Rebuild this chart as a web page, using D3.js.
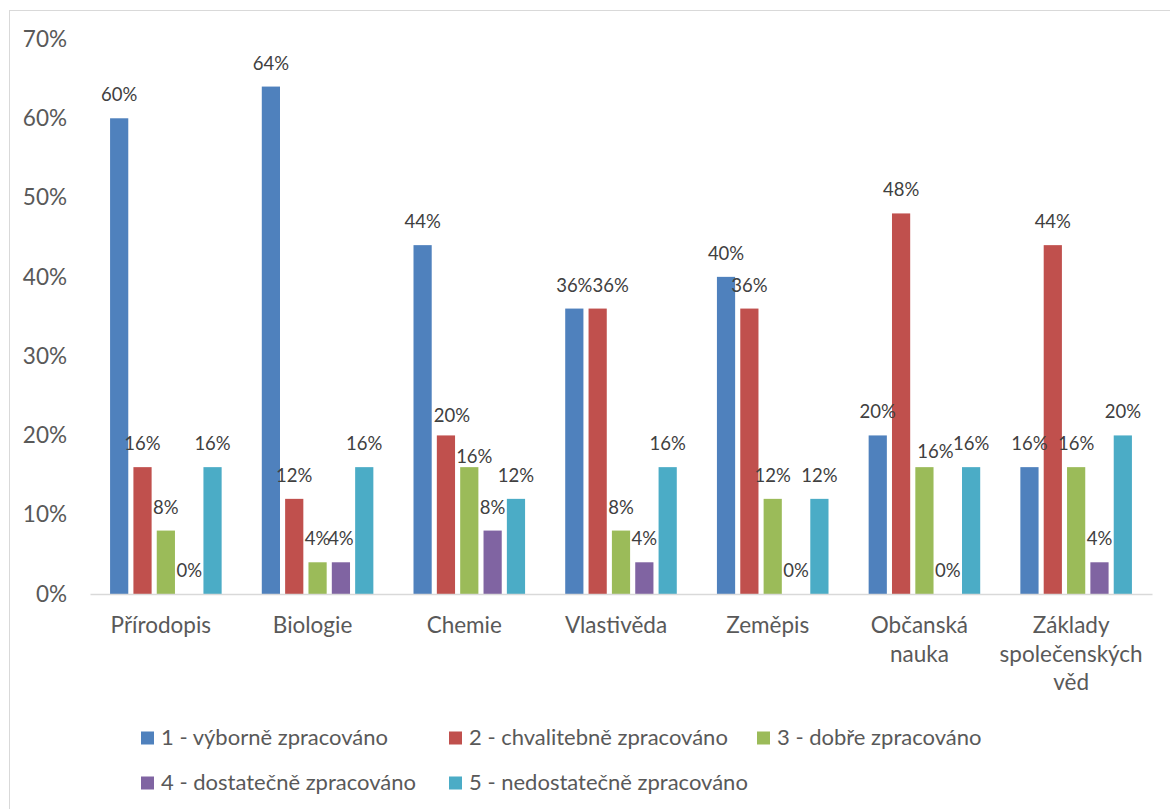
<!DOCTYPE html>
<html>
<head>
<meta charset="utf-8">
<script src="https://cdn.jsdelivr.net/npm/d3@7"></script>
<style>
  html, body { margin: 0; padding: 0; background: #fff; }
  svg { display: block; }
</style>
</head>
<body>
<svg id="chart" width="1170" height="809"></svg>
<script>
// Subjects (category axis), each label split into display lines
const categories = ["Přírodopis", "Biologie", "Chemie", "Vlastivěda", "Zeměpis", "Občanská nauka", "Základy společenských věd"];
const categoryLines = [["Přírodopis"], ["Biologie"], ["Chemie"], ["Vlastivěda"], ["Zeměpis"], ["Občanská", "nauka"], ["Základy", "společenských", "věd"]];

// Grade series
const seriesNames = ["1 - výborně zpracováno", "2 - chvalitebně zpracováno", "3 - dobře zpracováno", "4 - dostatečně zpracováno", "5 - nedostatečně zpracováno"];
const seriesColors = ["#4F81BD", "#C0504D", "#9BBB59", "#8064A2", "#4BACC6"];

// Share of each grade per subject (fraction)
const grade1 = [0.60, 0.64, 0.44, 0.36, 0.40, 0.20, 0.16];
const grade2 = [0.16, 0.12, 0.20, 0.36, 0.36, 0.48, 0.44];
const grade3 = [0.08, 0.04, 0.16, 0.08, 0.12, 0.16, 0.16];
const grade4 = [0.00, 0.04, 0.08, 0.04, 0.00, 0.00, 0.04];
const grade5 = [0.16, 0.16, 0.12, 0.16, 0.12, 0.16, 0.20];
const seriesValues = [grade1, grade2, grade3, grade4, grade5];

// Value axis ticks
const yTicks = [0, 0.1, 0.2, 0.3, 0.4, 0.5, 0.6, 0.7];

// Hand-nudged data labels that would otherwise collide: "series:category" -> [dx, dy]
const labelNudge = {
  "1:2": [6, 4],
  "2:2": [5, 12.5],
  "1:3": [13, 0],
  "2:5": [11, 8]
};

const FONT = "Lato, 'Open Sans', sans-serif";
const svg = d3.select("#chart");

// Outer chart frame
svg.append("rect")
  .attr("x", 9.5).attr("y", 10.5)
  .attr("width", 1200).attr("height", 900)
  .attr("fill", "none").attr("stroke", "#D9D9D9").attr("stroke-width", 1);

const x = d3.scaleBand().domain(categories).range([90, 1152]).paddingInner(0).paddingOuter(0);
const xs = d3.scaleBand().domain(d3.range(seriesNames.length)).range([0, x.bandwidth()])
  .paddingInner(0.22).paddingOuter(0.86);
const y = d3.scaleLinear().domain([0, 0.7]).range([594, 39]);
const pct = d3.format(".0%");

// Y axis labels (no axis line, no gridlines)
const yAxis = d3.axisLeft(y).tickValues(yTicks).tickFormat(pct).tickSize(0).tickPadding(0);
const yg = svg.append("g").attr("transform", "translate(67,0)").call(yAxis);
yg.select(".domain").remove();
yg.selectAll("text")
  .attr("font-family", FONT).attr("font-size", 22.5).attr("fill", "#595959");

// Bars
const groups = svg.append("g").selectAll("g")
  .data(seriesValues)
  .join("g")
  .attr("fill", (d, i) => seriesColors[i]);

groups.each(function (vals, si) {
  d3.select(this).selectAll("rect")
    .data(vals.map((v, ci) => ({ v, c: categories[ci] })))
    .join("rect")
    .attr("x", d => x(d.c) + xs(si))
    .attr("width", xs.bandwidth())
    .attr("y", d => y(d.v))
    .attr("height", d => y(0) - y(d.v));
});

// Category axis
const xAxis = d3.axisBottom(x).tickSize(0).tickFormat("");
const xg = svg.append("g").attr("transform", `translate(0,${y(0)})`).call(xAxis);
xg.select(".domain").attr("stroke", "#D9D9D9").attr("stroke-width", 1.3);

const catLabels = svg.append("g").selectAll("text")
  .data(categories)
  .join("text")
  .attr("font-family", FONT).attr("font-size", 22.5).attr("fill", "#595959")
  .attr("text-anchor", "middle");
catLabels.each(function (c, i) {
  const cx = x(c) + x.bandwidth() / 2 - 5;
  d3.select(this).selectAll("tspan")
    .data(categoryLines[i])
    .join("tspan")
    .attr("x", cx)
    .attr("y", (d, li) => 633 + li * 28.5)
    .text(d => d);
});

// Data labels
const labelG = svg.append("g");
seriesValues.forEach((vals, si) => {
  labelG.selectAll(null)
    .data(vals.map((v, ci) => ({ v, c: categories[ci], n: labelNudge[si + ":" + ci] || [0, 0] })))
    .join("text")
    .attr("font-family", FONT).attr("font-size", 18.5).attr("fill", "#404040")
    .attr("text-anchor", "middle")
    .attr("x", d => x(d.c) + xs(si) + xs.bandwidth() / 2 + d.n[0])
    .attr("y", d => y(d.v) - 17 + d.n[1])
    .text(d => pct(d.v));
});

// Legend
const legendPos = [[141, 745], [449, 745], [757, 745], [141, 790], [449, 790]];
const legend = svg.append("g").selectAll("g")
  .data(seriesNames)
  .join("g")
  .attr("transform", (d, i) => `translate(${legendPos[i][0]},${legendPos[i][1]})`);
legend.append("rect")
  .attr("x", 0).attr("y", -13.5).attr("width", 13).attr("height", 13)
  .attr("fill", (d, i) => seriesColors[i]);
legend.append("text")
  .attr("x", 20).attr("y", 0)
  .attr("font-family", FONT).attr("font-size", 22).attr("fill", "#595959")
  .text(d => d);
</script>
</body>
</html>
